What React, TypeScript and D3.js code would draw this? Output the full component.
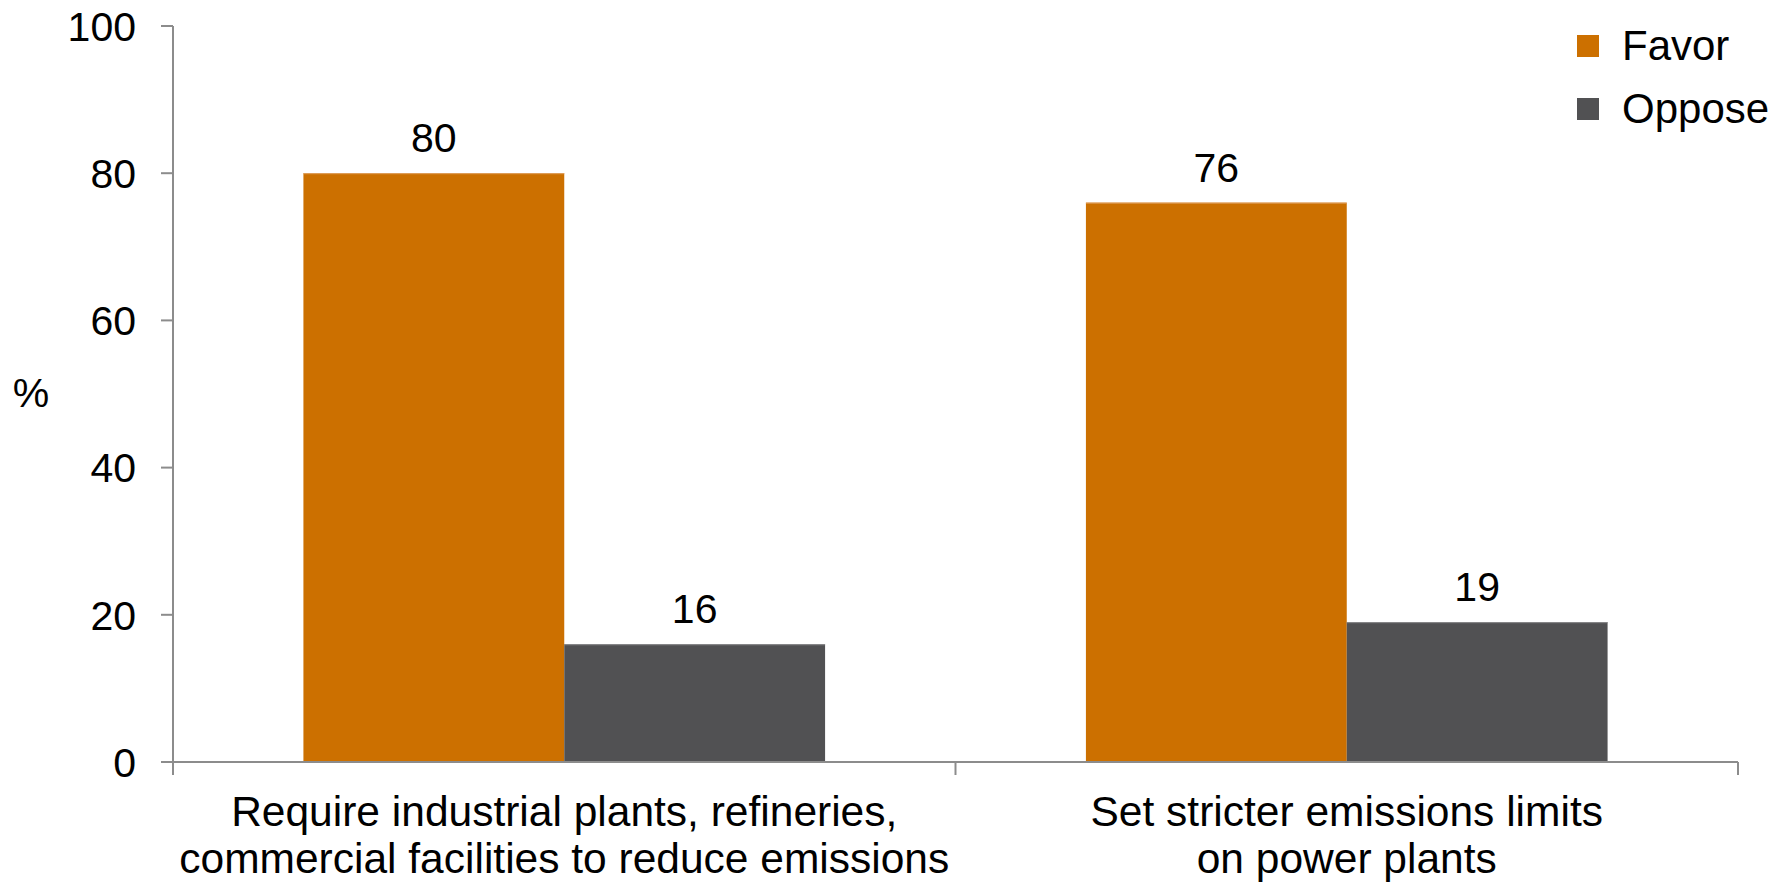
import React from "react";
import * as d3 from "d3";

const categories = [
  ["Require industrial plants, refineries,", "commercial facilities to reduce emissions"],
  ["Set stricter emissions limits", "on power plants"],
];
const seriesNames = ["Favor", "Oppose"];
const favorValues = [80, 76];
const opposeValues = [16, 19];
const yTicks = [0, 20, 40, 60, 80, 100];
const colors = ["#CC7000", "#515153"];

const W = 1784;
const H = 883;
const FONT = "'Liberation Sans', Arial, sans-serif";

export default function App() {
  const x0 = 173;
  const x1 = 1738;
  const yTop = 26;
  const yBottom = 762;
  const y = d3.scaleLinear().domain([0, 100]).range([yBottom, yTop]);
  const xBand = d3
    .scaleBand<number>()
    .domain(categories.map((_, i) => i))
    .range([x0, x1])
    .padding(0);
  const bw = xBand.bandwidth();
  const xSub = d3
    .scaleBand<string>()
    .domain(seriesNames)
    .range([bw / 6, (bw * 5) / 6])
    .padding(0);
  const series = [favorValues, opposeValues];

  return (
    <svg
      width={W}
      height={H}
      style={{ position: "fixed", left: 0, top: 0, background: "#fff" }}
      fontFamily={FONT}
    >
      <rect x={0} y={0} width={W} height={H} fill="#fff" />
      {/* bars */}
      {categories.map((_, ci) =>
        seriesNames.map((s, si) => {
          const v = series[si][ci];
          const bx = (xBand(ci) as number) + (xSub(s) as number);
          const bwid = xSub.bandwidth();
          return (
            <g key={`${ci}-${si}`}>
              <rect
                x={bx}
                y={y(v)}
                width={bwid}
                height={y(0) - y(v)}
                fill={colors[si]}
              />
              <line
                x1={bx}
                x2={bx + bwid}
                y1={y(v) + 0.5}
                y2={y(v) + 0.5}
                stroke={si === 0 ? "#e0a060" : "#8a8a8c"}
                strokeWidth={1}
              />
              <text
                x={bx + bwid / 2}
                y={y(v) - 21}
                textAnchor="middle"
                fontSize={41}
                fill="#000"
              >
                {v}
              </text>
            </g>
          );
        })
      )}
      {/* y axis */}
      <line x1={x0} x2={x0} y1={yTop} y2={775} stroke="#8c8c8c" strokeWidth={2} />
      {yTicks.map((t) => (
        <g key={t}>
          <line x1={161} x2={x0} y1={y(t)} y2={y(t)} stroke="#8c8c8c" strokeWidth={2} />
          <text
            x={136}
            y={y(t)}
            dy="0.36em"
            textAnchor="end"
            fontSize={41}
            fill="#000"
          >
            {t}
          </text>
        </g>
      ))}
      {/* x axis */}
      <line x1={x0} x2={x1} y1={yBottom} y2={yBottom} stroke="#8c8c8c" strokeWidth={2} />
      {[...categories.map((_, i) => xBand(i) as number), x1].map((xx, i) => (
        <line key={i} x1={xx} x2={xx} y1={yBottom} y2={775} stroke="#8c8c8c" strokeWidth={2} />
      ))}
      {categories.map((lines, ci) => (
        <text
          key={ci}
          x={(xBand(ci) as number) + bw / 2}
          y={826}
          textAnchor="middle"
          fontSize={42.5}
          fill="#000"
        >
          {lines.map((l, li) => (
            <tspan key={li} x={(xBand(ci) as number) + bw / 2} dy={li === 0 ? 0 : 47}>
              {l}
            </tspan>
          ))}
        </text>
      ))}
      {/* y label */}
      <text x={31} y={407} textAnchor="middle" fontSize={41} fill="#000">
        %
      </text>
      {/* legend */}
      {seriesNames.map((s, i) => (
        <g key={s}>
          <rect x={1577} y={35 + i * 63} width={22} height={22} fill={colors[i]} />
          <text x={1622} y={60 + i * 63} fontSize={42} fill="#000">
            {s}
          </text>
        </g>
      ))}
    </svg>
  );
}
